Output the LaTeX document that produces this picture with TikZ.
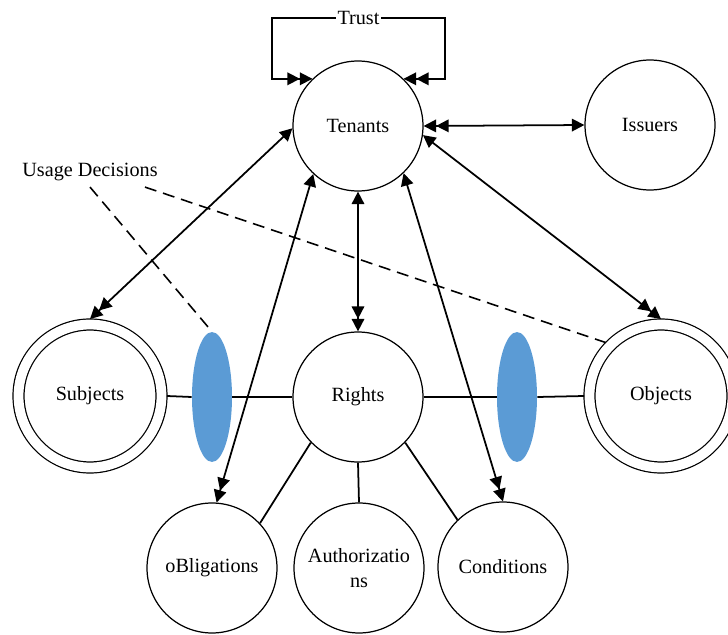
\documentclass[tikz,border=0pt]{standalone}
\usepackage{fontspec}
\setmainfont{Liberation Serif}
\usetikzlibrary{arrows.meta,positioning,shapes.geometric}
\definecolor{decisionblue}{HTML}{5B9BD5}

\begin{document}
\begin{tikzpicture}[
  x=0.02cm, y=-0.02cm,
  font=\fontsize{11.5}{14}\selectfont,
  >={Triangle[length=0.25cm, width=0.25cm]},
  entity/.style={circle, draw, line width=0.7pt, minimum size=2.6cm, inner sep=1pt, align=center},
  party/.style={entity, double, double distance=0.195cm, minimum size=2.86cm, outer sep=0.11cm},
  decision/.style={ellipse, fill=decisionblue, minimum width=0.8cm, minimum height=2.6cm, inner sep=0pt},
  link/.style={line width=1pt},
  decisionline/.style={line width=0.9pt, dash pattern=on 0.24cm off 0.14cm}
]
\useasboundingbox (0,0) rectangle (728,635);

% entities
\node[entity] (tenants) at (358,126) {Tenants};
\node[entity] (issuers) at (650,125) {Issuers};
\node[party] (subjects) at (90,396) {Subjects};
\node[entity] (rights) at (358,397) {Rights};
\node[party] (objects) at (661,396) {Objects};
\node[entity] (obligations) at (212,568) {oBligations};
\node[entity] (authorizations) at (359,568) {Authorizatio\\ns};
\node[entity] (conditions) at (503,567) {Conditions};

\node[decision] (subjdecision) at (212,397) {};
\node[decision] (objdecision) at (517,397) {};

% trust loop
\coordinate (trustleft) at (272,18);
\coordinate (trustright) at (445,18);
\draw[link, <<->>] (tenants.134) -| (trustleft) -- node[fill=white, inner sep=1pt] (trust) {Trust} (trustright) |- (tenants.46);

% tenant relations
\draw[link, <<->] (tenants.east) -- (issuers.west);
\draw[link, <->>] (tenants.182) -- (subjects.north);
\draw[link, <->>] (tenants.227) -- (obligations.86);
\draw[link, <->>] (tenants.south) -- (rights.north);
\draw[link, <->>] (tenants.314) -- (conditions.north);
\draw[link, <->>] (tenants.-8) -- (objects.north);

% rights
\draw[link] (subjects.east) -- (subjdecision.west);
\draw[link] (subjdecision.east) -- (rights.west);
\draw[link] (rights.east) -- (objdecision.west);
\draw[link] (objdecision.east) -- (objects.west);
\draw[link] (rights.224) -- (obligations.43);
\draw[link] (rights.south) -- (authorizations.north);
\draw[link] (rights.316) -- (conditions.134);

% usage decisions
\node (usagelabel) at (90,172) {Usage Decisions};
\draw[decisionline] (usagelabel.south) -- (subjdecision.north);
\draw[decisionline] ([xshift=1.1cm]usagelabel.south) -- (objects.136);

\end{tikzpicture}
\end{document}
